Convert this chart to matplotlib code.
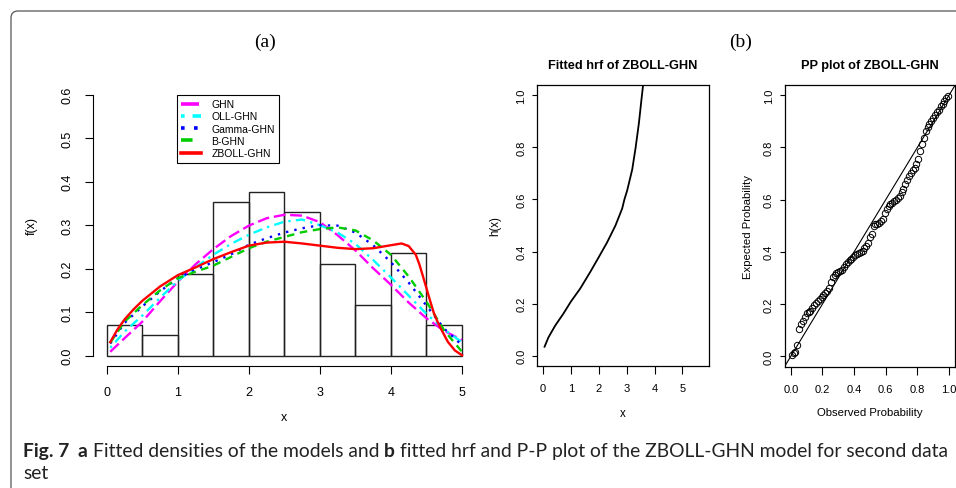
import numpy as np
import matplotlib
matplotlib.use('Agg')
import matplotlib.pyplot as plt
from matplotlib.lines import Line2D
from matplotlib.patches import FancyBboxPatch
from matplotlib.transforms import IdentityTransform

W, H = 956, 489

# ---- data ----
bin_edges = [0.0, 0.5, 1.0, 1.5, 2.0, 2.5, 3.0, 3.5, 4.0, 4.5, 5.0]
counts = [3, 2, 8, 15, 16, 14, 9, 5, 10, 3]
n_obs = 85

dens_x = [0.05, 0.25, 0.5, 0.75, 1.0, 1.25, 1.5, 1.75, 2.0, 2.25, 2.5,
          2.75, 3.0, 3.25, 3.5, 3.75, 4.0, 4.25, 4.5, 4.75, 5.0]
ghn = [0.009, 0.04, 0.078, 0.125, 0.17, 0.21, 0.245, 0.275, 0.299, 0.316, 0.324,
       0.322, 0.307, 0.277, 0.242, 0.201, 0.163, 0.122, 0.086, 0.057, 0.036]
oll_ghn = [0.018, 0.055, 0.092, 0.133, 0.172, 0.203, 0.232, 0.257, 0.278, 0.295, 0.308,
           0.313, 0.30, 0.283, 0.257, 0.22, 0.18, 0.138, 0.096, 0.06, 0.031]
gamma_ghn = [0.028, 0.075, 0.113, 0.148, 0.178, 0.198, 0.215, 0.233, 0.255, 0.27, 0.283,
             0.293, 0.30, 0.299, 0.283, 0.254, 0.215, 0.168, 0.115, 0.062, 0.024]
b_ghn = [0.03, 0.078, 0.116, 0.15, 0.178, 0.193, 0.207, 0.227, 0.247, 0.262, 0.273,
         0.284, 0.291, 0.295, 0.288, 0.265, 0.232, 0.182, 0.124, 0.058, 0.009]
zb_x = [0.05, 0.15, 0.25, 0.375, 0.5, 0.75, 1.0, 1.25, 1.5, 1.75, 2.0, 2.25, 2.5, 2.75,
        3.0, 3.25, 3.5, 3.75, 4.0, 4.15, 4.25, 4.35, 4.4, 4.45, 4.5, 4.55, 4.6,
        4.65, 4.7, 4.8, 4.9, 5.0]
zb_y = [0.031, 0.06, 0.083, 0.106, 0.126, 0.159, 0.185, 0.203, 0.222, 0.238, 0.253,
        0.26, 0.262, 0.258, 0.253, 0.248, 0.245, 0.247, 0.254, 0.258, 0.252, 0.232,
        0.21, 0.183, 0.155, 0.127, 0.10, 0.08, 0.063, 0.032, 0.012, 0.001]

hrf_x = [0.06, 0.2, 0.44, 0.74, 1.0, 1.34, 1.7, 2.0, 2.3, 2.6, 2.84, 2.92, 3.02,
         3.2, 3.32, 3.44, 3.53, 3.59, 3.65]
hrf_y = [0.034, 0.07, 0.115, 0.162, 0.207, 0.258, 0.322, 0.378, 0.435, 0.5, 0.565,
         0.6, 0.635, 0.715, 0.798, 0.894, 0.983, 1.04, 1.1]

pp_obs = [0.006, 0.018, 0.029, 0.041, 0.053, 0.065, 0.076, 0.088, 0.1, 0.112,
          0.124, 0.135, 0.147, 0.159, 0.171, 0.182, 0.194, 0.206, 0.218, 0.229,
          0.241, 0.253, 0.265, 0.276, 0.288, 0.3, 0.312, 0.324, 0.335, 0.347,
          0.359, 0.371, 0.382, 0.394, 0.406, 0.418, 0.429, 0.441, 0.453, 0.465,
          0.476, 0.488, 0.5, 0.512, 0.524, 0.535, 0.547, 0.559, 0.571, 0.582,
          0.594, 0.606, 0.618, 0.629, 0.641, 0.653, 0.665, 0.676, 0.688, 0.7,
          0.712, 0.724, 0.735, 0.747, 0.759, 0.771, 0.782, 0.794, 0.806, 0.818,
          0.829, 0.841, 0.853, 0.865, 0.876, 0.888, 0.9, 0.912, 0.924, 0.935,
          0.947, 0.959, 0.971, 0.982, 0.994]
pp_exp = [0.003, 0.012, 0.018, 0.042, 0.105, 0.125, 0.135, 0.15, 0.165, 0.171,
          0.175, 0.183, 0.195, 0.205, 0.213, 0.219, 0.226, 0.233, 0.243, 0.25,
          0.262, 0.285, 0.305, 0.312, 0.318, 0.322, 0.325, 0.332, 0.342, 0.353,
          0.361, 0.368, 0.373, 0.381, 0.388, 0.393, 0.396, 0.4, 0.405, 0.414,
          0.424, 0.435, 0.455, 0.47, 0.5, 0.505, 0.508, 0.512, 0.518, 0.525,
          0.55, 0.565, 0.575, 0.582, 0.588, 0.594, 0.6, 0.605, 0.615, 0.63,
          0.64, 0.66, 0.675, 0.69, 0.702, 0.712, 0.722, 0.735, 0.755, 0.785,
          0.812, 0.835, 0.862, 0.878, 0.89, 0.902, 0.912, 0.925, 0.935, 0.945,
          0.958, 0.968, 0.978, 0.988, 0.996]

SANS = ['Liberation Sans', 'DejaVu Sans']
plt.rcParams['font.family'] = SANS


def rect(l, t, r, b):
    return [l / W, 1 - b / H, (r - l) / W, (b - t) / H]


fig = plt.figure(figsize=(W / 100, H / 100), dpi=100)

# ---- panel (a): histogram + fitted densities ----
ax = fig.add_axes(rect(92.5, 85.3, 476.2, 367.1))
width = bin_edges[1] - bin_edges[0]
heights = [c / (n_obs * width) for c in counts]
ax.bar(bin_edges[:-1], heights, width=width, align='edge', fill=False,
       edgecolor='#222222', linewidth=1.0)

styles = [
    ('GHN', ghn, '#FF00FF', (0, (5, 2))),
    ('OLL-GHN', oll_ghn, '#00FFFF', (0, (1, 2.2, 4, 2.2))),
    ('Gamma-GHN', gamma_ghn, '#0000FF', (0, (1, 2.6))),
    ('B-GHN', b_ghn, '#00CD00', (0, (3.2, 2.4))),
]
handles = []
for name, vals, col, ls in styles:
    ax.plot(dens_x, vals, color=col, linestyle=ls, linewidth=1.7)
    handles.append(Line2D([], [], color=col, linestyle=ls, linewidth=2.6, label=name))
ax.plot(zb_x, zb_y, color='#FF0000', linewidth=1.7)
handles.append(Line2D([], [], color='#FF0000', linewidth=2.6, label='ZBOLL-GHN'))

ax.set_xlim(-0.2, 5.2)
ax.set_ylim(-0.024, 0.624)
ax.set_xticks([0, 1, 2, 3, 4, 5])
ax.set_yticks([0.0, 0.1, 0.2, 0.3, 0.4, 0.5, 0.6])
ax.set_yticklabels(['0.0', '0.1', '0.2', '0.3', '0.4', '0.5', '0.6'])
for s in ['top', 'right']:
    ax.spines[s].set_visible(False)
ax.spines['left'].set_bounds(0, 0.6)
ax.spines['bottom'].set_bounds(0, 5)
ax.tick_params(axis='both', direction='out', length=5.5, width=0.8, labelsize=9)
ax.tick_params(axis='x', pad=9)
ax.tick_params(axis='y', labelrotation=90, pad=8)
for t in ax.get_yticklabels():
    t.set_va('center')
ax.set_xlabel('x', fontsize=9, labelpad=9)
ax.set_ylabel('f(x)', fontsize=9, labelpad=17)
leg = ax.legend(handles=handles, loc='upper left', bbox_to_anchor=(0.2202, 0.962),
                fontsize=7.5, frameon=True, fancybox=False, edgecolor='black',
                framealpha=1, borderpad=0.4, labelspacing=0.22, handlelength=1.9,
                handletextpad=1.0, borderaxespad=0)
leg.get_frame().set_linewidth(0.8)

# ---- panel (b) left: hazard rate ----
ax2 = fig.add_axes(rect(537, 86, 709, 367))
ax2.plot(hrf_x, hrf_y, color='black', linewidth=1.3)
ax2.set_xlim(-0.21, 5.95)
ax2.set_ylim(-0.04, 1.04)
ax2.set_xticks([0, 1, 2, 3, 4, 5])
ax2.set_yticks([0.0, 0.2, 0.4, 0.6, 0.8, 1.0])
ax2.set_yticklabels(['0.0', '0.2', '0.4', '0.6', '0.8', '1.0'])
ax2.set_title('Fitted hrf of ZBOLL-GHN', fontweight='bold', fontsize=9.2, pad=12)
ax2.set_xlabel('x', fontsize=8.3, labelpad=10)
ax2.set_ylabel('h(x)', fontsize=8.3, labelpad=11)

# ---- panel (b) right: PP plot ----
ax3 = fig.add_axes(rect(784.5, 85.7, 955.4, 367.7))
ax3.axline((0, 0), (1, 1), color='black', linewidth=0.8)
ax3.plot(pp_obs, pp_exp, linestyle='none', marker='o', markersize=4.6,
         markerfacecolor='none', markeredgecolor='black', markeredgewidth=0.7)
ax3.set_xlim(-0.04, 1.04)
ax3.set_ylim(-0.04, 1.04)
ticks = [0.0, 0.2, 0.4, 0.6, 0.8, 1.0]
ax3.set_xticks(ticks)
ax3.set_xticklabels(['%.1f' % t for t in ticks])
ax3.set_yticks(ticks)
ax3.set_yticklabels(['%.1f' % t for t in ticks])
ax3.set_title('PP plot of ZBOLL-GHN', fontweight='bold', fontsize=9.2, pad=12)
ax3.set_xlabel('Observed Probability', fontsize=8.2, labelpad=9)
ax3.set_ylabel('Expected Probability', fontsize=8.2, labelpad=8)

for a in (ax2, ax3):
    for s in a.spines.values():
        s.set_linewidth(0.9)
    a.tick_params(axis='both', direction='out', width=0.8, labelsize=8)
    a.tick_params(axis='x', length=5.5, pad=7)
    a.tick_params(axis='y', length=3.8, pad=4, labelrotation=90)
    for t in a.get_yticklabels():
        t.set_va('center')

# ---- panel letters ----
fig.text(265 / W, 1 - 42 / H, '(a)', family=['Liberation Serif', 'DejaVu Serif'],
         fontsize=14, ha='center', va='center')
fig.text(741 / W, 1 - 42 / H, '(b)', family=['Liberation Serif', 'DejaVu Serif'],
         fontsize=14, ha='center', va='center')

# ---- page frame ----
frame = FancyBboxPatch((11, -30), 1000, H - 12 + 30,
                       boxstyle='round,pad=0,rounding_size=7',
                       transform=IdentityTransform(), fill=False,
                       edgecolor='#555555', linewidth=0.9)
fig.add_artist(frame)

# ---- caption ----
pieces = [('Fig. 7', 'bold'), ('a', 'bold'), ('Fitted densities of the models and', 'normal'),
          ('b', 'bold'), ('fitted hrf and P-P plot of the ZBOLL-GHN model for second data', 'normal')]
gaps = [1.7, 1.0, 1.0, 1.0]
renderer = fig.canvas.get_renderer()


def draw_caption(fs):
    texts = []
    x = 23.0
    for i, (txt, wt) in enumerate(pieces):
        t = fig.text(x / W, 1 - 457 / H, txt, family=['Lato', 'DejaVu Sans'],
                     fontweight=wt, fontsize=fs, color='#222222', va='baseline')
        texts.append(t)
        x = t.get_window_extent(renderer).x1
        if i < len(gaps):
            x += gaps[i] * fs * 100 / 72 * 0.26
    return texts, x


texts, end = draw_caption(12)
scale = (945 - 23) / (end - 23)
for t in texts:
    t.remove()
fs_cap = 12 * scale
texts, end = draw_caption(fs_cap)
fig.text(23 / W, 1 - 479 / H, 'set', family=['Lato', 'DejaVu Sans'], fontsize=fs_cap,
         color='#222222', va='baseline')

fig.savefig('out.png', dpi=100)
